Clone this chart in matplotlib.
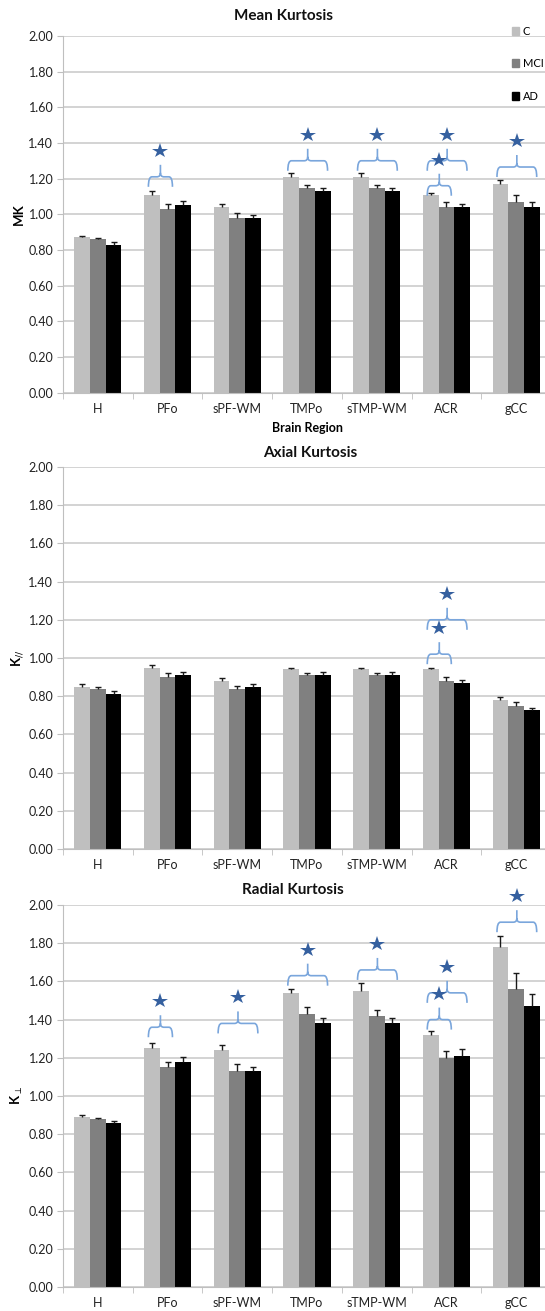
import numpy as np
import matplotlib.pyplot as plt
from matplotlib.path import Path
from matplotlib.patches import PathPatch, Patch

plt.rcParams['font.family'] = ['Lato', 'DejaVu Sans']

regions = ['H', 'PFo', 'sPF-WM', 'TMPo', 'sTMP-WM', 'ACR', 'gCC']
groups = ['C', 'MCI', 'AD']
colors = ['#bfbfbf', '#808080', '#000000']

# mean kurtosis
mk = [[0.87, 1.11, 1.04, 1.21, 1.21, 1.11, 1.17],
      [0.86, 1.03, 0.98, 1.15, 1.15, 1.04, 1.07],
      [0.83, 1.05, 0.98, 1.13, 1.13, 1.04, 1.04]]
mk_err = [[0.010, 0.020, 0.020, 0.020, 0.020, 0.010, 0.020],
          [0.005, 0.025, 0.025, 0.015, 0.015, 0.030, 0.040],
          [0.012, 0.025, 0.015, 0.020, 0.020, 0.020, 0.030]]

# axial kurtosis
ka = [[0.85, 0.95, 0.88, 0.94, 0.94, 0.94, 0.78],
      [0.84, 0.90, 0.84, 0.91, 0.91, 0.88, 0.75],
      [0.81, 0.91, 0.85, 0.91, 0.91, 0.87, 0.73]]
ka_err = [[0.015, 0.015, 0.015, 0.010, 0.010, 0.010, 0.015],
          [0.010, 0.020, 0.015, 0.010, 0.010, 0.020, 0.020],
          [0.015, 0.015, 0.015, 0.015, 0.015, 0.015, 0.010]]

# radial kurtosis
kr = [[0.89, 1.25, 1.24, 1.54, 1.55, 1.32, 1.78],
      [0.88, 1.15, 1.13, 1.43, 1.42, 1.20, 1.56],
      [0.86, 1.18, 1.13, 1.38, 1.38, 1.21, 1.47]]
kr_err = [[0.010, 0.025, 0.025, 0.020, 0.040, 0.020, 0.060],
          [0.005, 0.030, 0.035, 0.035, 0.030, 0.035, 0.085],
          [0.010, 0.025, 0.020, 0.030, 0.030, 0.035, 0.065]]

# significance braces: (region index, first group, last group, brace level)
mk_sig = [(1, 0, 1, 1.21), (3, 0, 2, 1.30), (4, 0, 2, 1.30),
          (5, 0, 2, 1.30), (5, 0, 1, 1.16), (6, 0, 2, 1.265)]
ka_sig = [(5, 0, 2, 1.20), (5, 0, 1, 1.02)]
kr_sig = [(1, 0, 1, 1.36), (2, 0, 2, 1.38), (3, 0, 2, 1.63), (4, 0, 2, 1.66),
          (5, 0, 2, 1.54), (5, 0, 1, 1.40), (6, 0, 2, 1.91)]

W, H = 545, 1311
fig = plt.figure(figsize=(W / 100, H / 100), dpi=100)

bw = 0.225
x = np.arange(len(regions))
brace_col = '#7aa6dc'
star_col = '#35609f'


def brace(ax, x0, x1, y, px):
    # px: data units per pixel
    lo = y - 10 * px
    hi = y + 12 * px
    xc = (x0 + x1) / 2
    r = 0.05
    verts = [(x0, lo), (x0, y), (x0 + r, y), (xc - r, y), (xc, y), (xc, y + 4 * px),
             (xc, hi),
             (xc, y + 4 * px), (xc, y), (xc + r, y), (x1 - r, y), (x1, y), (x1, lo)]
    codes = [Path.MOVETO, Path.CURVE3, Path.CURVE3, Path.LINETO, Path.CURVE3, Path.CURVE3,
             Path.LINETO,
             Path.MOVETO, Path.CURVE3, Path.CURVE3, Path.LINETO, Path.CURVE3, Path.CURVE3]
    ax.add_patch(PathPatch(Path(verts, codes), fill=False, ec=brace_col, lw=1.2,
                           clip_on=False, zorder=4))
    ax.plot(xc, hi + 14 * px, marker='*', color=star_col, ms=11.5, mew=0,
            clip_on=False, zorder=5)


def panel(top_px, bot_px, vals, errs, sigs, title, title_x, title_y, ylabel):
    ax = fig.add_axes([63 / W, 1 - bot_px / H, 488 / W, (bot_px - top_px) / H])
    for i in range(3):
        xs = x + (i - 1) * bw
        v = np.array(vals[i])
        e = np.array(errs[i])
        ax.bar(xs, v, bw, color=colors[i], zorder=2)
        # plus-only error bars with a cap on top
        ax.vlines(xs, v, v + e, color='#1a1a1a', lw=1.0, zorder=3)
        ax.plot(xs, v + e, ls='none', marker='_', ms=4.5, mew=1.0,
                color='#1a1a1a', zorder=3)
    ax.set_xlim(-0.5, 6.5)
    ax.set_ylim(0, 2.0)
    ax.set_yticks(np.arange(0, 2.01, 0.2))
    ax.set_yticklabels(['%.2f' % v for v in np.arange(0, 2.01, 0.2)])
    ax.yaxis.grid(True, color='#d0d0d0', lw=1.3, zorder=0)
    ax.set_axisbelow(True)
    ax.set_xticks(x)
    ax.set_xticklabels(regions)
    ax.set_xticks(np.arange(-0.5, 7, 1), minor=True)
    ax.tick_params(axis='x', which='major', length=0, pad=7.5, labelsize=9, colors='#222222')
    ax.tick_params(axis='x', which='minor', length=4, color='#bfbfbf', direction='out')
    ax.tick_params(axis='y', length=4, color='#bfbfbf', pad=3, labelsize=9, labelcolor='#222222')
    for s in ['top', 'right']:
        ax.spines[s].set_visible(False)
    ax.spines['left'].set_color('#bfbfbf')
    ax.spines['bottom'].set_color('#bfbfbf')
    ax.set_ylabel(ylabel, fontsize=9.5, fontweight='bold')
    ax.yaxis.set_label_coords(-0.078, 0.5)
    fig.text(title_x / W, 1 - title_y / H, title, ha='center', va='center',
             fontsize=11, fontweight='bold', color='#111111')
    px = 2.0 / (bot_px - top_px)
    for r, g0, g1, lev in sigs:
        brace(ax, r + (g0 - 1) * bw - 0.05, r + (g1 - 1) * bw + 0.07, lev, px)
    return ax


ax1 = panel(36, 392.5, mk, mk_err, mk_sig, 'Mean Kurtosis', 283, 16, 'MK')
ax1.set_xlabel('Brain Region', fontsize=9, fontweight='bold', labelpad=5)
panel(467, 849, ka, ka_err, ka_sig, 'Axial Kurtosis', 310, 453, r'K$_{//}$')
panel(905, 1287, kr, kr_err, kr_sig, 'Radial Kurtosis', 293, 890, r'K$_{\perp}$')

handles = [Patch(color=c) for c in colors]
fig.legend(handles, groups, loc='upper left', bbox_to_anchor=(506 / W, 1 - 20 / H),
           frameon=False, fontsize=8, handlelength=0.7, handleheight=0.7,
           handletextpad=0.3, labelspacing=1.95, borderpad=0)

fig.savefig('out.png', dpi=100)
